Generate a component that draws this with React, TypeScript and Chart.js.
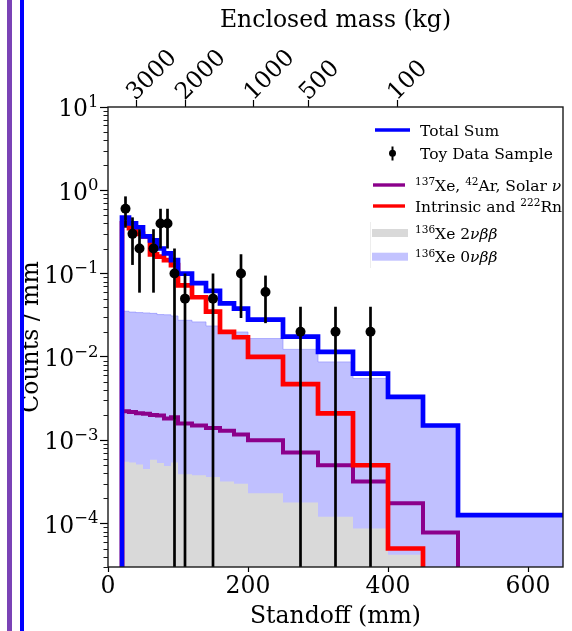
import React, { useEffect, useRef } from 'react';
import { Chart, registerables } from 'chart.js';

Chart.register(...registerables);

// ---------------- data ----------------
const binEdges = [20, 30, 40, 50, 60, 70, 80, 90, 100, 120, 140, 160, 180, 200, 250, 300, 350, 400, 450, 500, 650];

const totalSum = [0.47, 0.40, 0.36, 0.28, 0.25, 0.20, 0.175, 0.145, 0.10, 0.077, 0.062, 0.044, 0.038, 0.028, 0.0175, 0.0115, 0.0063, 0.0033, 0.0015, 0.000126];

const intrinsicRn = [0.40, 0.35, 0.30, 0.28, 0.17, 0.16, 0.145, 0.126, 0.072, 0.052, 0.035, 0.020, 0.0172, 0.010, 0.0047, 0.0021, 0.0005, 0.00005];

const xeArSolar = [0.00222, 0.00218, 0.00211, 0.00208, 0.00201, 0.00198, 0.00182, 0.00188, 0.00159, 0.0015, 0.0014, 0.0013, 0.00117, 0.0010, 0.00071, 0.0005, 0.00032, 0.000175, 0.000078];

const xe136TwoNu = [0.00055, 0.00054, 0.00051, 0.00045, 0.00058, 0.00053, 0.00049, 0.00054, 0.00039, 0.00038, 0.00036, 0.00032, 0.0003, 0.00023, 0.000178, 0.00012, 0.000087, 0.000042];

const xe136ZeroNu = [0.0353, 0.0345, 0.034, 0.0337, 0.0333, 0.0322, 0.032, 0.031, 0.0275, 0.0263, 0.0235, 0.020, 0.0199, 0.0166, 0.0123, 0.0087, 0.0055, 0.0032, 0.00145, 0.000122];

const dataX = [25, 35, 45, 65, 75, 85, 95, 110, 150, 190, 225, 275, 325, 375];
const dataY = [0.6, 0.3, 0.2, 0.2, 0.4, 0.4, 0.1, 0.05, 0.05, 0.1, 0.06, 0.02, 0.02, 0.02];
const dataErr = [0.245, 0.173, 0.141, 0.141, 0.2, 0.2, 0.1, 0.05, 0.05, 0.0707, 0.0346, 0.02, 0.02, 0.02];

const massLabels = ['3000', '2000', '1000', '500', '100'];
const massStandoff = [40, 110, 208, 287, 413];

const xTickValues = [0, 200, 400, 600];
const yTickValues = [10, 1, 0.1, 0.01, 0.001, 0.0001];
const yTickBase = '10';
const yTickExponents = ['1', '0', '\u22121', '\u22122', '\u22123', '\u22124'];

const legendLabels = [
  [{ t: 'Total Sum' }],
  [{ t: 'Toy Data Sample' }],
  [{ t: '137', sup: true }, { t: 'Xe, ' }, { t: '42', sup: true }, { t: 'Ar, Solar ' }, { t: 'ν', it: true }],
  [{ t: 'Intrinsic and ' }, { t: '222', sup: true }, { t: 'Rn' }],
  [{ t: '136', sup: true }, { t: 'Xe 2' }, { t: 'νββ', it: true }],
  [{ t: '136', sup: true }, { t: 'Xe 0' }, { t: 'νββ', it: true }],
];

const X_MIN = 0;
const X_MAX = 650;
const Y_MIN = 3e-5;
const Y_MAX = 10;

// ---------------- helpers ----------------
const FF = '"DejaVu Serif", serif';
const FLOOR = Y_MIN / 100;
const BIG = 23.5;

function stepPoints(values: number[], closeStart: boolean, closeEnd: boolean) {
  const pts: { x: number; y: number }[] = [];
  if (closeStart) pts.push({ x: binEdges[0], y: FLOOR });
  for (let i = 0; i < values.length; i++) pts.push({ x: binEdges[i], y: values[i] });
  const n = values.length;
  pts.push({ x: binEdges[n], y: values[n - 1] });
  if (closeEnd) pts.push({ x: binEdges[n], y: FLOOR });
  return pts;
}

function isPow10(v: number) {
  const l = Math.log10(v);
  return Math.abs(l - Math.round(l)) < 1e-6;
}

function allLogTicks() {
  const out: number[] = [];
  for (let e = -6; e <= 1; e++) {
    for (let m = 1; m <= 9; m++) {
      const v = Number((m * Math.pow(10, e)).toPrecision(6));
      if (v >= Y_MIN * 0.999 && v <= Y_MAX * 1.001) out.push(v);
    }
  }
  return out;
}

function richText(ctx: CanvasRenderingContext2D, x: number, yBase: number, segs: any[], size: number) {
  let cx = x;
  for (const s of segs) {
    const fs = s.sup ? size * 0.68 : size;
    ctx.font = `${s.it ? 'italic ' : ''}${fs}px ${FF}`;
    ctx.fillText(s.t, cx, yBase - (s.sup ? size * 0.36 : 0));
    cx += ctx.measureText(s.t).width;
  }
}

const extrasPlugin = {
  id: 'extras',
  afterDatasetsDraw(chart: any) {
    const { ctx, chartArea: a, scales } = chart;
    const xs = scales.x;
    const ys = scales.y;
    ctx.save();
    // error bars
    ctx.strokeStyle = '#000';
    ctx.lineWidth = 2.7;
    ctx.lineCap = 'butt';
    for (let i = 0; i < dataX.length; i++) {
      const px = xs.getPixelForValue(dataX[i]);
      const hi = dataY[i] + dataErr[i];
      const lo = dataY[i] - dataErr[i];
      const pyTop = Math.max(a.top, ys.getPixelForValue(hi));
      const pyBot = lo > Y_MIN ? ys.getPixelForValue(lo) : a.bottom;
      ctx.beginPath();
      ctx.moveTo(px, pyTop);
      ctx.lineTo(px, pyBot);
      ctx.stroke();
    }
    // frame
    ctx.strokeStyle = '#1a1a1a';
    ctx.lineWidth = 1.4;
    ctx.strokeRect(a.left, a.top, a.right - a.left, a.bottom - a.top);
    // minor ticks on y
    ctx.lineWidth = 1;
    for (const t of ys.ticks) {
      if (!isPow10(t.value)) {
        const py = Math.round(ys.getPixelForValue(t.value)) + 0.5;
        ctx.beginPath();
        ctx.moveTo(a.left - 4.5, py);
        ctx.lineTo(a.left, py);
        ctx.stroke();
      }
    }
    // y tick labels, 10 with a raised exponent
    ctx.fillStyle = '#000';
    ctx.textBaseline = 'alphabetic';
    ctx.textAlign = 'left';
    const supSize = BIG * 0.7;
    for (let i = 0; i < yTickValues.length; i++) {
      const py = ys.getPixelForValue(yTickValues[i]);
      const base = py + 9.3;
      ctx.font = `${BIG}px ${FF}`;
      const wb = ctx.measureText(yTickBase).width;
      ctx.font = `${supSize}px ${FF}`;
      const we = ctx.measureText(yTickExponents[i]).width;
      const x0 = a.left - 9.5 - wb - we;
      ctx.font = `${BIG}px ${FF}`;
      ctx.fillText(yTickBase, x0, base);
      ctx.font = `${supSize}px ${FF}`;
      ctx.fillText(yTickExponents[i], x0 + wb, base - 9.5);
    }
    ctx.restore();
  },
  afterDraw(chart: any) {
    const ctx: CanvasRenderingContext2D = chart.ctx;
    const size = 15.5;
    const off = size * 0.729 / 2;
    ctx.save();
    ctx.textBaseline = 'alphabetic';
    ctx.textAlign = 'left';
    ctx.fillStyle = '#000';
    const hline = (x0: number, x1: number, y: number, color: string, w: number) => {
      ctx.strokeStyle = color;
      ctx.lineWidth = w;
      ctx.beginPath();
      ctx.moveTo(x0, y);
      ctx.lineTo(x1, y);
      ctx.stroke();
    };
    // group 1
    hline(375, 410, 130, '#0000ff', 3.6);
    ctx.fillStyle = '#000';
    richText(ctx, 420, 130 + off, legendLabels[0], size);
    ctx.strokeStyle = '#000';
    ctx.lineWidth = 2;
    ctx.beginPath();
    ctx.moveTo(392.5, 146.5);
    ctx.lineTo(392.5, 160.5);
    ctx.stroke();
    ctx.beginPath();
    ctx.arc(392.5, 153.3, 3.5, 0, Math.PI * 2);
    ctx.fill();
    richText(ctx, 420, 153.3 + off, legendLabels[1], size);
    // group 2
    hline(373, 405, 185, '#8b008b', 3.4);
    richText(ctx, 415, 185 + off, legendLabels[2], size);
    hline(373, 405, 206, '#ff0000', 3.4);
    richText(ctx, 415, 206 + off, legendLabels[3], size);
    // group 3
    ctx.strokeStyle = 'rgba(0,0,0,0.07)';
    ctx.lineWidth = 1;
    ctx.beginPath();
    ctx.moveTo(370.5, 222);
    ctx.lineTo(370.5, 268);
    ctx.stroke();
    ctx.fillStyle = '#d9d9d9';
    ctx.fillRect(372, 229, 36, 8);
    ctx.fillStyle = '#c3c3ff';
    ctx.fillRect(372, 252.7, 36, 8);
    ctx.fillStyle = '#000';
    richText(ctx, 415, 233 + off, legendLabels[4], size);
    richText(ctx, 415, 256.7 + off, legendLabels[5], size);
    ctx.restore();
  },
};

export default function App() {
  const ref = useRef<HTMLCanvasElement>(null);

  useEffect(() => {
    const canvas = ref.current;
    if (!canvas) return;
    Chart.defaults.font.family = FF;
    Chart.defaults.color = '#000';
    const fontBig = { family: FF, size: BIG };

    const chart = new Chart(canvas, {
      type: 'line',
      data: {
        datasets: [
          {
            type: 'scatter',
            label: 'Toy Data Sample',
            data: dataX.map((x, i) => ({ x, y: dataY[i] })),
            pointRadius: 5,
            pointHoverRadius: 5,
            backgroundColor: '#000',
            borderColor: '#000',
            borderWidth: 0,
            showLine: false,
          } as any,
          {
            label: 'Total Sum',
            data: stepPoints(totalSum, true, false),
            stepped: true,
            borderColor: '#0000ff',
            borderWidth: 4.7,
            pointRadius: 0,
            fill: false,
            borderJoinStyle: 'miter',
          },
          {
            label: 'Intrinsic and 222Rn',
            data: stepPoints(intrinsicRn, true, true),
            stepped: true,
            borderColor: '#ff0000',
            borderWidth: 4.7,
            pointRadius: 0,
            fill: false,
            borderJoinStyle: 'miter',
          },
          {
            label: '137Xe, 42Ar, Solar nu',
            data: stepPoints(xeArSolar, true, true),
            stepped: true,
            borderColor: '#8b008b',
            borderWidth: 4,
            pointRadius: 0,
            fill: false,
            borderJoinStyle: 'miter',
          },
          {
            label: '136Xe 2nbb',
            data: stepPoints(xe136TwoNu, false, false),
            stepped: true,
            borderColor: 'rgba(0,0,0,0)',
            borderWidth: 0,
            backgroundColor: '#d9d9d9',
            pointRadius: 0,
            fill: 'start',
          },
          {
            label: '136Xe 0nbb',
            data: stepPoints(xe136ZeroNu, false, false),
            stepped: true,
            borderColor: 'rgba(130,130,255,0.55)',
            borderWidth: 1,
            backgroundColor: '#c0c0ff',
            pointRadius: 0,
            fill: 'start',
          },
        ],
      },
      options: {
        animation: false,
        responsive: false,
        maintainAspectRatio: false,
        devicePixelRatio: 1,
        events: [],
        layout: { padding: { left: 0, top: 0, right: 9, bottom: 0 } },
        plugins: {
          legend: { display: false },
          tooltip: { enabled: false },
        },
        scales: {
          x: {
            type: 'linear',
            position: 'bottom',
            min: X_MIN,
            max: X_MAX,
            afterBuildTicks: (s: any) => {
              s.ticks = xTickValues.map((v) => ({ value: v }));
            },
            ticks: {
              font: fontBig,
              color: '#000',
              padding: 1,
              maxRotation: 0,
              minRotation: 0,
              autoSkip: false,
              callback: (v: any) => String(v),
            },
            grid: { drawOnChartArea: false, drawTicks: true, tickLength: 5, tickColor: '#000', tickWidth: 1.2 },
            border: { display: false },
            title: { display: true, text: 'Standoff (mm)', font: fontBig, color: '#000', padding: { top: 0, bottom: 0 } },
            afterFit: (s: any) => {
              s.height = 64;
            },
          },
          x2: {
            type: 'linear',
            position: 'top',
            min: X_MIN,
            max: X_MAX,
            afterBuildTicks: (s: any) => {
              s.ticks = massStandoff.map((v) => ({ value: v }));
            },
            ticks: {
              font: fontBig,
              color: '#000',
              minRotation: 45,
              maxRotation: 45,
              autoSkip: false,
              labelOffset: 15,
              padding: -6.6,
              callback: (v: any) => {
                const i = massStandoff.indexOf(Number(v));
                return i >= 0 ? massLabels[i] : '';
              },
            },
            grid: { drawOnChartArea: false, drawTicks: true, tickLength: 7, tickColor: '#000', tickWidth: 1.2 },
            border: { display: false },
            title: { display: true, text: 'Enclosed mass (kg)', font: fontBig, color: '#000', padding: { top: 6.4, bottom: 0 } },
            afterFit: (s: any) => {
              s.height = 107;
            },
          },
          y: {
            type: 'logarithmic',
            position: 'left',
            min: Y_MIN,
            max: Y_MAX,
            afterBuildTicks: (s: any) => {
              s.ticks = allLogTicks().map((v) => ({ value: v }));
            },
            ticks: {
              font: fontBig,
              color: '#000',
              padding: 3,
              autoSkip: false,
              callback: () => '',
            },
            grid: {
              drawOnChartArea: false,
              drawTicks: true,
              tickLength: 8,
              tickWidth: 1.2,
              tickColor: (c: any) => (c.tick && isPow10(c.tick.value) ? '#000' : 'rgba(0,0,0,0)'),
            },
            border: { display: false },
            title: { display: true, text: 'Counts / mm', font: fontBig, color: '#000', padding: { top: 18, bottom: 0 } },
            afterFit: (s: any) => {
              s.width = 108;
            },
          },
        },
      } as any,
      plugins: [extrasPlugin],
    });
    return () => chart.destroy();
  }, []);

  return (
    <div style={{ position: 'fixed', left: 0, top: 0, width: 572, height: 631, background: '#fff', overflow: 'hidden' }}>
      <canvas ref={ref} width={572} height={631} style={{ display: 'block', width: 572, height: 631 }} />
      <div style={{ position: 'absolute', left: 7, top: 0, width: 5, height: 631, background: '#7a43b6' }} />
      <div style={{ position: 'absolute', left: 20, top: 0, width: 4, height: 631, background: '#0000ff' }} />
    </div>
  );
}
